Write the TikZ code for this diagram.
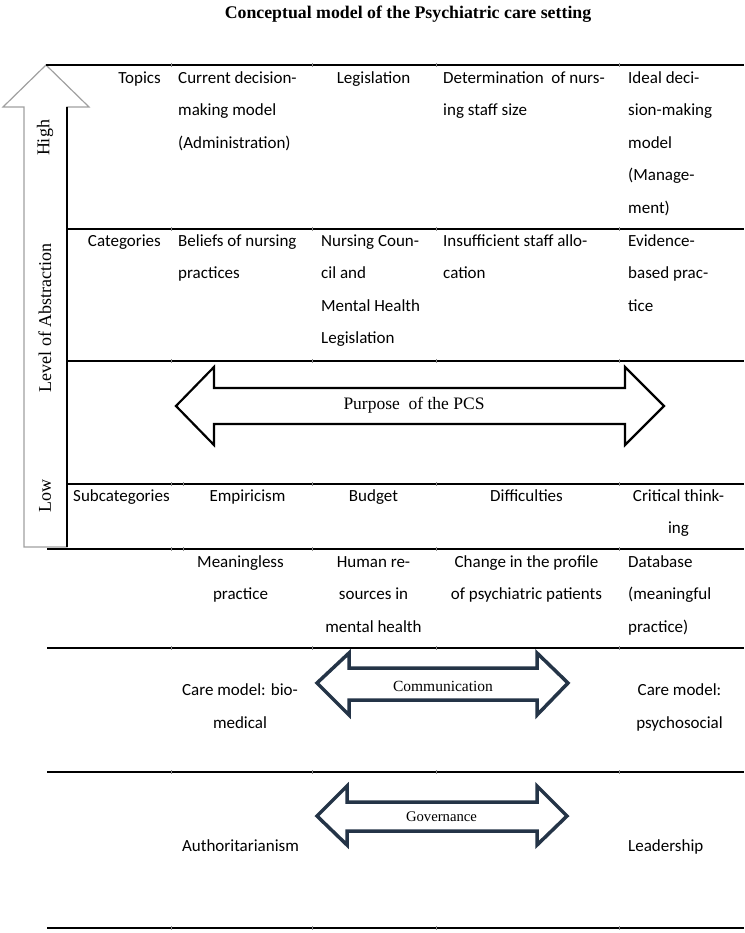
\documentclass[tikz,border=0pt]{standalone}
\usepackage{fontspec}
\setmainfont{Liberation Serif}
\newfontfamily\carl{Carlito}
\newcommand\myst{\rule{0pt}{13pt}}
\definecolor{navy}{HTML}{243447}
\definecolor{arrgray}{HTML}{A0A0A0}
\begin{document}
\begin{tikzpicture}[x=1pt,y=-1pt,
  rule/.style={line width=1.3pt,black},
  tick/.style={line width=0.4pt,black!45},
  body/.style={inner sep=0pt,font=\carl\fontsize{17}{32.5}\selectfont},
  cellL/.style={body,anchor=north west,align=left},
  cellR/.style={body,anchor=north east,align=right},
  cellC/.style={body,anchor=north,align=center},
  rotlab/.style={inner sep=0pt,rotate=90,font=\fontsize{18}{20}\selectfont},
  bigarrow/.style={line width=2.2pt,black,fill=white,line join=miter},
  navyarrow/.style={line width=3.5pt,navy,fill=white,line join=miter},
]
\useasboundingbox (0,0) rectangle (744,933);

% title
\node[inner sep=0pt,font=\bfseries\fontsize{17.8}{20}\selectfont] (title) at (408,14) {Conceptual model of the Psychiatric care setting};

% up arrow (level of abstraction)
\draw[line width=1.2pt,arrgray,fill=white,line join=miter]
  (46,65) -- (89,107) -- (67,107) -- (67,547) -- (24,547) -- (24,107) -- (3,107) -- cycle;
\node[rotlab] (high) at (45,138) {High};
\node[rotlab] (level) at (45,318) {Level of Abstraction};
\node[rotlab] (low) at (45,496) {Low};

% table rules
\draw[rule] (46,65) -- (744,65);
\draw[rule] (67,107) -- (67,547);
\draw[rule] (67,229) -- (744,229);
\draw[rule] (67,361) -- (744,361);
\draw[rule] (67,484) -- (744,484);
\foreach \yy in {549,648,772,928} {\draw[rule] (47,\yy) -- (744,\yy);}
\foreach \yy in {65,229,361,484,549,648,772,928} {
  \foreach \xx in {171,312,436,619} {\draw[tick] (\xx,\yy-2) -- (\xx,\yy+2);}
}
\foreach \yy in {484,549} {\draw[tick] (183,\yy-2) -- (183,\yy+2);}

% Topics row
\node[cellR] (topics) at (161,70.2) {\myst Topics};
\node[cellL] (t1) at (178,70.2) {\myst Current decision-\\making model\\(Administration)};
\node[cellC] (t2) at (373.5,70.2) {\myst Legislation};
\node[cellL] (t3) at (443,70.2) {\myst Determination\ \ of nurs-\\ing staff size};
\node[cellL] (t4) at (628,70.2) {\myst Ideal deci-\\sion-making\\model\\(Manage-\\ment)};

% Categories row
\node[cellR] (cats) at (161,233) {\myst Categories};
\node[cellL] (c1) at (178,233) {\myst Beliefs of nursing\\practices};
\node[cellL] (c2) at (321,233) {\myst Nursing Coun-\\cil and\\Mental Health\\Legislation};
\node[cellL] (c3) at (443,233) {\myst Insufficient staff allo-\\cation};
\node[cellL] (c4) at (628,233) {\myst Evidence-\\based prac-\\tice};

% Purpose arrow
\draw[bigarrow] (176,406) -- (214,367) -- (214,388) -- (625,388) -- (625,367) -- (664,406)
  -- (625,445) -- (625,424) -- (214,424) -- (214,445) -- cycle;
\node[inner sep=0pt,font=\fontsize{17.5}{20}\selectfont] (purpose) at (414,405) {Purpose\ \ of the PCS};

% Subcategories row
\node[cellL] (subs) at (73,488) {\myst Subcategories};
\node[cellC] (s1) at (247.5,488) {\myst Empiricism};
\node[cellC] (s2) at (373.5,488) {\myst Budget};
\node[cellC] (s3) at (526.5,488) {\myst Difficulties};
\node[cellC] (s4) at (678.5,488) {\myst Critical think-\\ing};

% fifth row
\node[cellC] (r1) at (240.5,554) {\myst Meaningless\\practice};
\node[cellC] (r2) at (373.5,554) {\myst Human re-\\sources in\\mental health};
\node[cellC] (r3) at (526.5,554) {\myst Change in the profile\\of psychiatric patients};
\node[cellL] (r4) at (628,554) {\myst Database\\(meaningful\\practice)};

% Communication row
\draw[navyarrow] (317,683) -- (349,653) -- (349,668) -- (537,668) -- (537,653) -- (568,683)
  -- (537,715) -- (537,700) -- (349,700) -- (349,715) -- cycle;
\node[inner sep=0pt,font=\fontsize{15.5}{18}\selectfont] (comm) at (443,686) {Communication};
\node[cellC] (m1) at (240,682.5) {\myst Care model: bio-\\medical};
\node[cellC] (m2) at (679.5,682.5) {\myst Care model:\\psychosocial};

% Governance row
\draw[navyarrow] (317,816) -- (347,786) -- (347,802) -- (537,802) -- (537,786) -- (567,816)
  -- (537,845) -- (537,831) -- (347,831) -- (347,845) -- cycle;
\node[inner sep=0pt,font=\fontsize{14.7}{18}\selectfont] (gov) at (441.5,817) {Governance};
\node[cellC] (g1) at (240.5,838) {\myst Authoritarianism};
\node[cellL] (g2) at (628,838) {\myst Leadership};
\end{tikzpicture}
\end{document}
